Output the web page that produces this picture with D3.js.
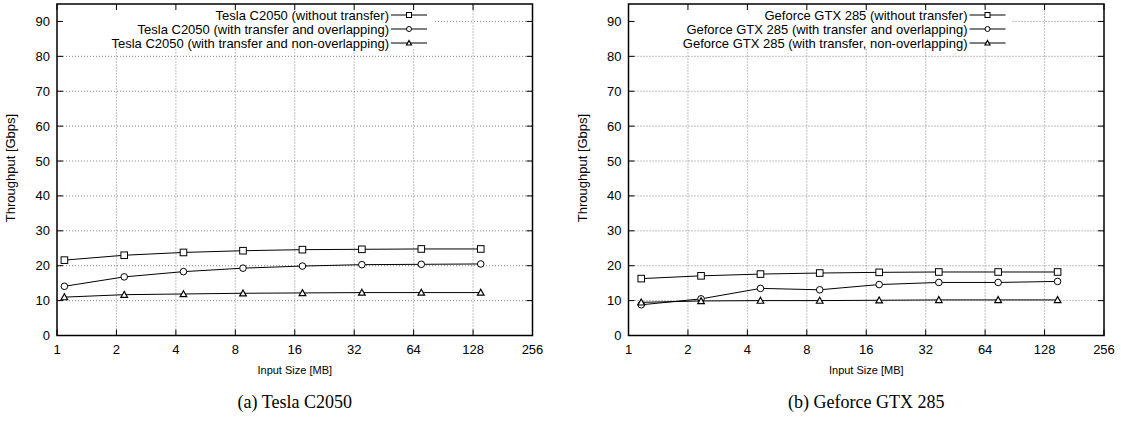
<meta charset="utf-8">
<style>body { margin: 0; }</style>
<svg width="1121" height="421"></svg>
<script src="https://d3js.org/d3.v7.min.js"></script>
<script>
// input sizes (MB)
var sizesTesla = [1.09, 2.19, 4.37, 8.75, 17.5, 35, 70, 140];
var sizesGtx = [1.16, 2.33, 4.66, 9.3, 18.6, 37.3, 74.5, 149];

// throughput in Gbps
var teslaNoTransfer = [21.6, 23.0, 23.8, 24.3, 24.6, 24.7, 24.8, 24.8];
var teslaOverlap = [14.1, 16.8, 18.3, 19.3, 19.9, 20.3, 20.4, 20.5];
var teslaNonOverlap = [11.0, 11.7, 11.9, 12.1, 12.2, 12.3, 12.3, 12.3];

var gtxNoTransfer = [16.3, 17.1, 17.6, 17.9, 18.1, 18.2, 18.2, 18.2];
var gtxOverlap = [8.8, 10.5, 13.5, 13.1, 14.6, 15.2, 15.2, 15.5];
var gtxNonOverlap = [9.5, 9.9, 10.0, 10.0, 10.1, 10.2, 10.2, 10.2];

var teslaNames = ["Tesla C2050 (without transfer)", "Tesla C2050 (with transfer and overlapping)", "Tesla C2050 (with transfer and non-overlapping)"];
var gtxNames = ["Geforce GTX 285 (without transfer)", "Geforce GTX 285 (with transfer and overlapping)", "Geforce GTX 285 (with transfer, non-overlapping)"];

var xTicks = [1, 2, 4, 8, 16, 32, 64, 128, 256];
var yTicks = [0, 10, 20, 30, 40, 50, 60, 70, 80, 90];
var markers = ["square", "circle", "triangle"];

var svg = d3.select("svg");
svg.append("rect").attr("width", 1121).attr("height", 421).attr("fill", "#fff");

var font = "'Liberation Sans', Arial, sans-serif";

function panel(p) {
	var x = d3.scaleLog().base(2).domain([1, 256]).range([p.left, p.right]);
	var y = d3.scaleLinear().domain([0, 95]).range([335.5, 4]);
	var g = svg.append("g");

	// grid
	var grid = g.append("g").attr("stroke", "#666").attr("stroke-width", 0.8).attr("stroke-dasharray", "1,2");
	grid.selectAll(".gx").data(xTicks.slice(1, -1)).enter().append("line")
		.attr("x1", function(d) { return x(d); }).attr("x2", function(d) { return x(d); })
		.attr("y1", y(0)).attr("y2", y(95));
	grid.selectAll(".gy").data(yTicks.slice(1)).enter().append("line")
		.attr("x1", x(1)).attr("x2", x(256))
		.attr("y1", function(d) { return y(d); }).attr("y2", function(d) { return y(d); });

	// key area hides the grid
	g.append("rect").attr("x", x(1) + 1).attr("y", y(95) + 1)
		.attr("width", p.keyEnd - x(1) - 1).attr("height", 44).attr("fill", "#fff");

	// ticks inward on all four sides
	var tk = g.append("g").attr("stroke", "#000").attr("stroke-width", 1);
	tk.selectAll(".tb").data(xTicks).enter().append("line")
		.attr("x1", function(d) { return x(d); }).attr("x2", function(d) { return x(d); })
		.attr("y1", y(0)).attr("y2", y(0) - 6);
	tk.selectAll(".tt").data(xTicks).enter().append("line")
		.attr("x1", function(d) { return x(d); }).attr("x2", function(d) { return x(d); })
		.attr("y1", y(95)).attr("y2", y(95) + 6);
	tk.selectAll(".tl").data(yTicks).enter().append("line")
		.attr("x1", x(1)).attr("x2", x(1) + 6)
		.attr("y1", function(d) { return y(d); }).attr("y2", function(d) { return y(d); });
	tk.selectAll(".tr").data(yTicks).enter().append("line")
		.attr("x1", x(256)).attr("x2", x(256) - 6)
		.attr("y1", function(d) { return y(d); }).attr("y2", function(d) { return y(d); });

	g.append("rect").attr("x", x(1)).attr("y", y(95))
		.attr("width", x(256) - x(1)).attr("height", y(0) - y(95))
		.attr("fill", "none").attr("stroke", "#000").attr("stroke-width", 1.5);

	// tick labels
	g.selectAll(".xl").data(xTicks).enter().append("text")
		.attr("x", function(d) { return x(d); }).attr("y", 354)
		.attr("text-anchor", "middle").attr("font-family", font).attr("font-size", 13)
		.text(function(d) { return d; });
	g.selectAll(".yl").data(yTicks).enter().append("text")
		.attr("x", x(1) - 7).attr("y", function(d) { return y(d) + 4.5; })
		.attr("text-anchor", "end").attr("font-family", font).attr("font-size", 13)
		.text(function(d) { return d; });

	g.append("text").attr("x", (x(1) + x(256)) / 2).attr("y", 374)
		.attr("text-anchor", "middle").attr("font-family", font).attr("font-size", 11)
		.text("Input Size [MB]");
	g.append("text").attr("transform", "translate(" + (x(1) - 42) + ",168) rotate(-90)")
		.attr("text-anchor", "middle").attr("font-family", font).attr("font-size", 13)
		.text("Throughput [Gbps]");
	g.append("text").attr("x", (x(1) + x(256)) / 2).attr("y", 408)
		.attr("text-anchor", "middle").attr("font-family", "'Liberation Serif', 'DejaVu Serif', serif")
		.attr("font-size", 18).text(p.caption);

	var line = d3.line().x(function(d) { return x(d[0]); }).y(function(d) { return y(d[1]); });

	p.series.forEach(function(vals, i) {
		var pts = p.sizes.map(function(s, j) { return [s, vals[j]]; });
		g.append("path").datum(pts).attr("d", line)
			.attr("fill", "none").attr("stroke", "#000").attr("stroke-width", 1);
		pts.forEach(function(pt) { marker(g, markers[i], x(pt[0]), y(pt[1]), 3.3); });

		// key entry
		var ky = 15 + i * 14;
		g.append("text").attr("x", p.keyText).attr("y", ky + 4.5)
			.attr("text-anchor", "end").attr("font-family", font).attr("font-size", 13)
			.text(p.names[i]);
		g.append("line").attr("x1", p.keyText + 2).attr("x2", p.keyText + 38)
			.attr("y1", ky).attr("y2", ky).attr("stroke", "#000").attr("stroke-width", 1);
		marker(g, markers[i], p.keyText + 20, ky, 2.5);
	});
}

function marker(g, type, cx, cy, r) {
	if (type == "square") {
		g.append("rect").attr("x", cx - r).attr("y", cy - r).attr("width", 2 * r).attr("height", 2 * r)
			.attr("fill", "#fff").attr("stroke", "#000").attr("stroke-width", 1);
	} else if (type == "circle") {
		g.append("circle").attr("cx", cx).attr("cy", cy).attr("r", r)
			.attr("fill", "#fff").attr("stroke", "#000").attr("stroke-width", 1);
	} else {
		g.append("path")
			.attr("d", "M" + cx + "," + (cy - r) + "L" + (cx + r) + "," + (cy + r * 0.8) + "L" + (cx - r) + "," + (cy + r * 0.8) + "Z")
			.attr("fill", "#fff").attr("stroke", "#000").attr("stroke-width", 1.2);
	}
}

panel({ left: 57, right: 532.5, keyText: 389, keyEnd: 433, caption: "(a) Tesla C2050",
	sizes: sizesTesla, series: [teslaNoTransfer, teslaOverlap, teslaNonOverlap], names: teslaNames });
panel({ left: 628.5, right: 1104, keyText: 967.5, keyEnd: 1012, caption: "(b) Geforce GTX 285",
	sizes: sizesGtx, series: [gtxNoTransfer, gtxOverlap, gtxNonOverlap], names: gtxNames });
</script>
